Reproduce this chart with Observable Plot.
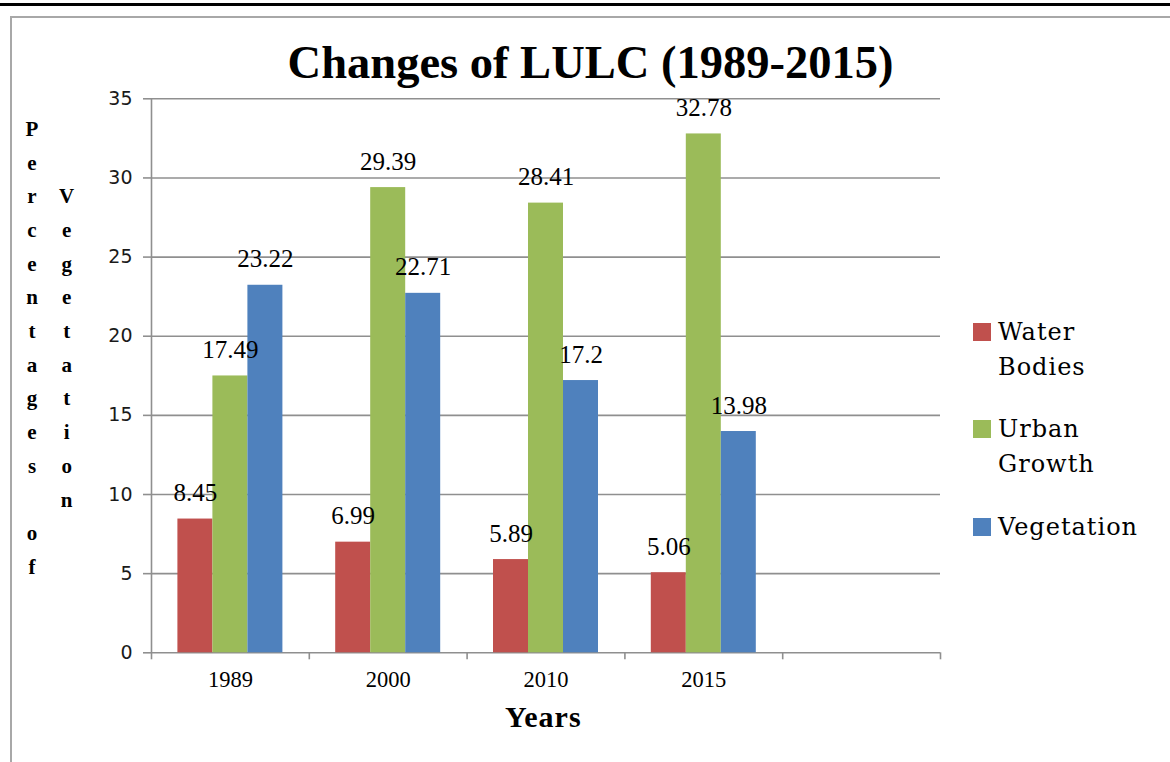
<!DOCTYPE html>
<html>
<head>
<meta charset="utf-8">
<script src="https://cdn.jsdelivr.net/npm/d3@7"></script>
<script src="https://cdn.jsdelivr.net/npm/@observablehq/plot@0.6"></script>
<style>
  body { margin: 0; background: #fff; }
  #wrap { position: relative; width: 1170px; height: 762px; overflow: hidden; background: #fff; }
  .abs { position: absolute; }
  #topbar { left: 0; top: 2.5px; width: 1170px; height: 3.5px; background: #000; }
  #frame { left: 10px; top: 15.5px; width: 1200px; height: 800px; border-left: 2px solid #a8a8a8; border-top: 2px solid #a8a8a8; }
  #title { left: 0; width: 1181px; top: 39.5px; text-align: center; font: bold 46.5px/46.5px "Liberation Serif", serif; color: #000; }
  #xlabel { left: 0; width: 1086.6px; top: 701.6px; text-align: center; font: bold 30px/30px "Liberation Serif", serif; color: #000; letter-spacing: 1px; }
  .vcol { width: 30px; text-align: center; white-space: pre; font: bold 21px/33.7px "Liberation Serif", serif; color: #000; }
  .leg { left: 973px; width: 195px; }
  .sw { position: absolute; left: 0; top: 8px; width: 18px; height: 18px; }
  .lt { position: absolute; left: 25px; top: 0; width: 165px; font: 24px/35px "DejaVu Serif", serif; letter-spacing: 1px; color: #000; }
</style>
</head>
<body>
<div id="wrap">
  <div id="topbar" class="abs"></div>
  <div id="frame" class="abs"></div>
</div>
<script>
// ---------- data ----------
const years = ["1989", "2000", "2010", "2015"];
const series = ["Water Bodies", "Urban Growth", "Vegetation"];
const waterBodies = [8.45, 6.99, 5.89, 5.06];
const urbanGrowth = [17.49, 29.39, 28.41, 32.78];
const vegetation = [23.22, 22.71, 17.2, 13.98];
const seriesColors = ["#C0504D", "#9BBB59", "#4F81BD"];
const yTicks = [0, 5, 10, 15, 20, 25, 30, 35];
const xCategories = [...years, ""];
const titleText = "Changes of LULC (1989-2015)";
const xLabelText = "Years";
const yLabelTexts = ["Percentages of", "Vegetation"];

// ---------- layout ----------
const W = 1170, H = 762;
const mL = 151, mR = 230, mT = 98.3, mB = H - 652.3;
const bw = (W - mL - mR) / xCategories.length;
const barW = 35;
const gray = "#8f8f8f";

const values = [waterBodies, urbanGrowth, vegetation];
const rows = series.flatMap((s, k) => years.map((y, i) => ({year: y, series: s, value: values[k][i]})));

const marks = [
  Plot.gridY(yTicks, {stroke: gray, strokeOpacity: 1, strokeWidth: 1.6}),
  ...series.map((s, k) => Plot.barY(rows.filter(d => d.series === s), {
    x: "year", y: "value", fill: seriesColors[k],
    insetLeft: (bw - barW) / 2, insetRight: (bw - barW) / 2, dx: (k - 1) * barW
  })),
  Plot.ruleX([xCategories[0]], {x: d => d, dx: -bw / 2, stroke: gray, strokeWidth: 1.6}),
  Plot.ruleX(xCategories, {x: d => d, dx: -bw / 2, insetTop: H - mT - mB, insetBottom: -7, stroke: gray, strokeWidth: 1.6}),
  Plot.ruleX([xCategories[xCategories.length - 1]], {x: d => d, dx: bw / 2, insetTop: H - mT - mB, insetBottom: -7, stroke: gray, strokeWidth: 1.6}),
  ...series.map((s, k) => Plot.text(rows.filter(d => d.series === s), {
    x: "year", y: "value", text: d => String(d.value),
    dx: (k - 1) * barW, dy: -26, lineAnchor: "middle", textAnchor: "middle",
    fontSize: 25, fontFamily: "Liberation Serif", fill: "#000"
  })),
  Plot.axisY(yTicks, {tickSize: 8, tickPadding: 11, stroke: gray, strokeWidth: 1.6, fill: "#1a1a1a",
    fontSize: 19, fontFamily: "DejaVu Sans", label: null}),
  Plot.axisX({tickSize: 0, tickPadding: 18, fill: "#000", fontSize: 22.5, fontFamily: "Liberation Serif", label: null})
];

const chart = Plot.plot({
  width: W, height: H,
  marginLeft: mL, marginRight: mR, marginTop: mT, marginBottom: mB,
  x: {domain: xCategories, padding: 0, round: false},
  y: {domain: [0, 35]},
  style: {background: "transparent", overflow: "visible"},
  marks
});
chart.style.position = "absolute";
chart.style.left = "0px";
chart.style.top = "0px";

const wrap = document.getElementById("wrap");
wrap.appendChild(chart);

function addDiv(id, cls, text, css) {
  const d = document.createElement("div");
  if (id) d.id = id;
  d.className = cls;
  if (text != null) d.textContent = text;
  Object.assign(d.style, css || {});
  wrap.appendChild(d);
  return d;
}

addDiv("title", "abs", titleText);
addDiv("xlabel", "abs", xLabelText);

// vertical stacked y labels
const colX = [17, 51.7];
const rowStart = [0, 2];
yLabelTexts.forEach((t, j) => {
  addDiv(null, "abs vcol", t.split("").map(c => c === " " ? "" : c).join("\n"),
    {left: colX[j] + "px", top: (112.8 + 33.7 * rowStart[j]) + "px"});
});

// legend
const legTops = [315, 412, 510];
series.forEach((s, k) => {
  const item = addDiv(null, "abs leg", null, {top: legTops[k] + "px"});
  const sw = document.createElement("div");
  sw.className = "sw";
  sw.style.background = seriesColors[k];
  item.appendChild(sw);
  const lt = document.createElement("div");
  lt.className = "lt";
  lt.textContent = s;
  item.appendChild(lt);
});
</script>
</body>
</html>
